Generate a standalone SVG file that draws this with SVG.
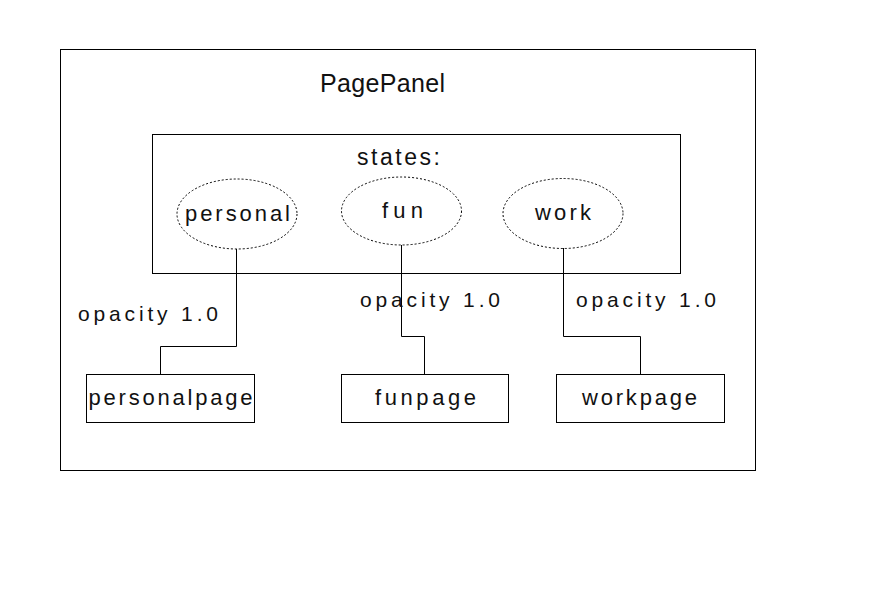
<svg xmlns="http://www.w3.org/2000/svg" width="873" height="600" viewBox="0 0 873 600">
<style>
text{font-family:"Liberation Sans","DejaVu Sans",sans-serif;fill:#111;}
.box{fill:#fff;stroke:#000;stroke-width:1;}
.st{fill:#fff;stroke:#000;stroke-width:1;stroke-dasharray:2,2;}
.c{fill:none;stroke:#000;stroke-width:1;}
.lbl{font-size:22px;text-anchor:middle;}
.op{font-size:21px;}
</style>
<rect width="873" height="600" fill="#fff"/>
<g id="PagePanel">
<rect class="box" x="60.5" y="49.5" width="695" height="421"/>
<text x="320" y="92" font-size="25" textLength="125" lengthAdjust="spacing">PagePanel</text>
</g>
<g id="states">
<rect class="box" x="152.5" y="134.5" width="528" height="139"/>
<text x="357" y="165" font-size="23" textLength="83" lengthAdjust="spacing">states:</text>
</g>
<g id="personal">
<ellipse class="st" cx="237" cy="214" rx="60" ry="35"/>
<text class="lbl" x="237.5" y="221" textLength="105" lengthAdjust="spacing">personal</text>
</g>
<g id="fun">
<ellipse class="st" cx="401.5" cy="211" rx="60" ry="34"/>
<text class="lbl" x="402.5" y="218" textLength="41" lengthAdjust="spacing">fun</text>
</g>
<g id="work">
<ellipse class="st" cx="563" cy="213.5" rx="60" ry="35"/>
<text class="lbl" x="563" y="220" textLength="56" lengthAdjust="spacing">work</text>
</g>
<g id="connectors">
<polyline class="c" points="236.5,249 236.5,346.5 160.5,346.5 160.5,374"/>
<polyline class="c" points="401.5,245 401.5,336.5 424.5,336.5 424.5,374"/>
<polyline class="c" points="563.5,248 563.5,336.5 640.5,336.5 640.5,374"/>
<text class="op" x="78" y="321" textLength="140" lengthAdjust="spacing">opacity 1.0</text>
<text class="op" x="360" y="307" textLength="140" lengthAdjust="spacing">opacity 1.0</text>
<text class="op" x="576" y="307" textLength="140" lengthAdjust="spacing">opacity 1.0</text>
</g>
<g id="personalpage">
<rect class="box" x="86.5" y="374.5" width="168" height="48"/>
<text class="lbl" x="170.5" y="405" textLength="164" lengthAdjust="spacing">personalpage</text>
</g>
<g id="funpage">
<rect class="box" x="341.5" y="374.5" width="167" height="48"/>
<text class="lbl" x="425.5" y="405" textLength="101" lengthAdjust="spacing">funpage</text>
</g>
<g id="workpage">
<rect class="box" x="556.5" y="374.5" width="168" height="48"/>
<text class="lbl" x="639.5" y="405" textLength="115" lengthAdjust="spacing">workpage</text>
</g>
</svg>
